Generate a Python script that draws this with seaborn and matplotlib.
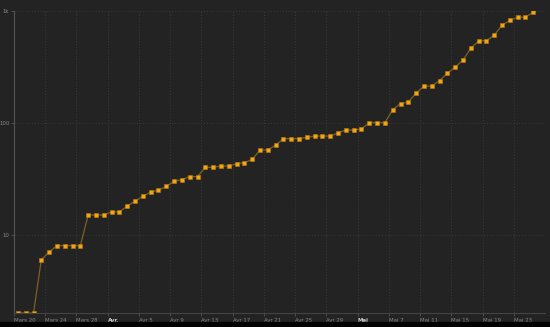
import matplotlib
matplotlib.use("Agg")
import matplotlib.pyplot as plt
import matplotlib.patches as mpatches
import seaborn as sns
import pandas as pd
import numpy as np

# ---- data ----
start_date = "2020-03-20 12:00"
values = [2, 2, 2, 6, 7, 8, 8, 8, 8, 15,
          15, 15, 16, 16, 18, 20, 22, 24, 25, 27,
          30, 31, 33, 33, 40, 40, 41, 41, 43, 44,
          47, 57, 57, 63, 72, 72, 72, 74, 76, 76,
          76, 81, 86, 86, 88, 100, 100, 100, 131, 148,
          153, 184, 212, 212, 238, 276, 313, 363, 461, 539,
          539, 605, 743, 818, 875, 875, 970]
tick_dates = ["2020-03-20", "2020-03-24", "2020-03-28", "2020-04-01", "2020-04-05",
              "2020-04-09", "2020-04-13", "2020-04-17", "2020-04-21", "2020-04-25",
              "2020-04-29", "2020-05-03", "2020-05-07", "2020-05-11", "2020-05-15",
              "2020-05-19", "2020-05-23"]
tick_labels = ["Mars 20", "Mars 24", "Mars 28", "Avr.", "Avr 5", "Avr 9", "Avr 13",
               "Avr 17", "Avr 21", "Avr 25", "Avr 29", "Mai", "Mai 7", "Mai 11",
               "Mai 15", "Mai 19", "Mai 23"]
y_ticks = [10, 100, 1000]
y_tick_labels = ["10", "100", "1k"]

dates = pd.date_range(start_date, periods=len(values), freq="D")
df = pd.DataFrame({"date": dates, "value": values})

bg = "#232323"
sns.set_theme(style="dark", rc={
    "axes.facecolor": bg,
    "figure.facecolor": bg,
    "axes.edgecolor": "#555555",
    "grid.color": "#3a3a3a",
})
plt.rcParams["font.family"] = ["DejaVu Sans"]

fig = plt.figure(figsize=(5.5, 3.27), dpi=100)
ax = fig.add_axes([14 / 550, 1 - 313 / 327, (545 - 14) / 550, (313 - 10.7) / 327])

sns.lineplot(data=df, x="date", y="value", ax=ax, color="#7d6124", linewidth=0.9,
             marker="s", markersize=2.9, markerfacecolor="#f2a516",
             markeredgecolor="#b97e10", markeredgewidth=0.4)

ax.set_yscale("log")
ax.set_ylim(2, 1000)
ax.set_xlim(pd.Timestamp("2020-03-20"), pd.Timestamp("2020-05-27"))

ax.set_yticks(y_ticks)
ax.set_yticklabels(y_tick_labels)
ax.yaxis.set_minor_locator(matplotlib.ticker.NullLocator())
ax.set_xticks(pd.to_datetime(tick_dates))
ax.set_xticklabels(tick_labels)

for lbl in ax.get_xticklabels():
    lbl.set_horizontalalignment("left")
    if lbl.get_text() in ("Avr.", "Mai"):
        lbl.set_color("#cfcfcf")
        lbl.set_fontweight("bold")
    else:
        lbl.set_color("#8a8a8a")

ax.tick_params(axis="x", labelsize=3.9, length=2.5, width=0.6, color="#555555", pad=0.8,
               direction="out", bottom=True)
ax.tick_params(axis="y", labelsize=3.9, length=2.5, width=0.6, color="#555555", pad=0.8,
               labelcolor="#8a8a8a", left=True)

ax.grid(True, which="major", axis="both", color="#3a3a3a", linestyle=(0, (1, 2)), linewidth=0.7)
ax.set_axisbelow(True)

for side in ("top", "right"):
    ax.spines[side].set_visible(False)
ax.spines["left"].set_color("#555555")
ax.spines["left"].set_linewidth(0.8)
ax.spines["bottom"].set_color("#444444")
ax.spines["bottom"].set_linewidth(0.8)

ax.set_xlabel("")
ax.set_ylabel("")

fig.patches.append(mpatches.Rectangle((0, 0), 1, 5 / 327, transform=fig.transFigure,
                                      color="#000000", zorder=0))

fig.savefig("out.png", dpi=100, facecolor=bg)
